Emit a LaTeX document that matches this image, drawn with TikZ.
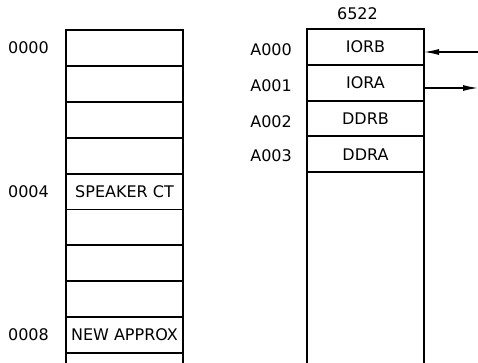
\documentclass[tikz,border=0pt]{standalone}
\usepackage{fontspec}
\setmainfont{DejaVu Sans}
\usetikzlibrary{positioning,arrows.meta}
\tikzset{
  cell/.style={draw, line width=1.9pt, minimum width=117pt, minimum height=35.9pt,
    inner sep=0pt, outer sep=0pt},
  addr/.style={inner sep=0pt},
}
\begin{document}
\begin{tikzpicture}[x=1pt, y=1pt, font=\fontsize{16}{19}\selectfont,
  >={Latex[length=15pt,width=6pt]}]
\useasboundingbox (0,0) rectangle (478,-363);
% memory page zero
\foreach \i/\txt in {0/,1/,2/,3/,4/SPEAKER CT,5/,6/,7/,8/NEW APPROX,9/}
  \node[cell] (m\i) at (124.5,{-47.95-35.9*\i}) {\txt};
\node[addr, left=17pt of m0] {0000};
\node[addr, left=17pt of m4] {0004};
\node[addr, left=17pt of m8] {0008};
% 6522 registers
\foreach \i/\txt in {0/IORB,1/IORA,2/DDRB,3/DDRA}
  \node[cell] (r\i) at (365.5,{-46.9-35.8*\i}) {\txt};
\node[cell, minimum height=220pt, anchor=north] (r4) at (r3.south) {};
\node[above=6pt of r0, xshift=-8pt] (chip) {6522};
\node[addr, left=15pt of r0, yshift=-3pt] {A000};
\node[addr, left=15pt of r1, yshift=-3pt] {A001};
\node[addr, left=15pt of r2, yshift=-3pt] {A002};
\node[addr, left=15pt of r3, yshift=-1pt] {A003};
% port lines
\coordinate (portB) at (478,-52);
\coordinate (portA) at (478,-88);
\draw[->, line width=1.3pt] (portB) -- (portB -| r0.east);
\draw[->, line width=1.3pt] (portA -| r1.east) -- (portA);
\end{tikzpicture}
\end{document}
